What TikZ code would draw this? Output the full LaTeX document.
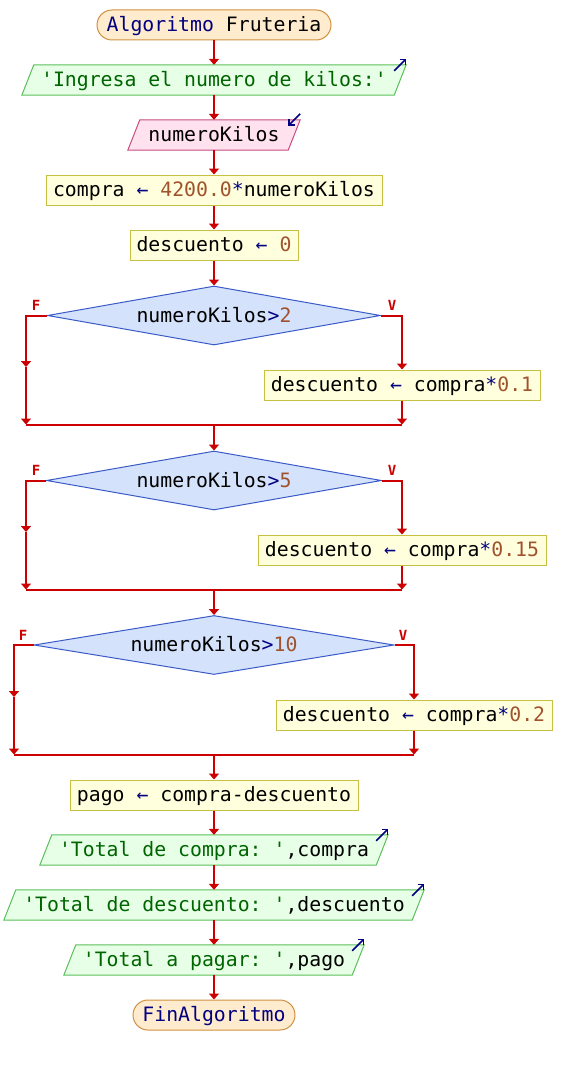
\documentclass[tikz,border=0pt]{standalone}
\usepackage{fontspec}
\setmonofont{DejaVu Sans Mono}
\usetikzlibrary{arrows.meta,shapes.geometric,backgrounds,calc}
\definecolor{conC}{HTML}{CC0000}
\definecolor{opC}{HTML}{000080}
\definecolor{numC}{HTML}{A0522D}
\definecolor{strC}{HTML}{006400}
\definecolor{asgF}{HTML}{FFFFDD}
\definecolor{asgB}{HTML}{C8C040}
\definecolor{outF}{HTML}{E6FFE6}
\definecolor{outB}{HTML}{5CBF5C}
\definecolor{inF}{HTML}{FFE2EE}
\definecolor{inB}{HTML}{C84C80}
\definecolor{terF}{HTML}{FFEBCD}
\definecolor{terB}{HTML}{D09040}
\definecolor{diaF}{HTML}{D4E2FB}
\definecolor{diaB}{HTML}{3A5BC7}
\newcommand\op[1]{\textcolor{opC}{#1}}
\newcommand\nm[1]{\textcolor{numC}{#1}}
\newcommand\st[1]{\textcolor{strC}{#1}}
\newcommand\mypara[3]{%
  \path[fill=#2,draw=#3,line width=1pt]
    ($(#1.south west)+(-6,0)$) -- ($(#1.north west)+(6,0)$) --
    ($(#1.north east)+(6,0)$) -- ($(#1.south east)+(-6,0)$) -- cycle;}
\newcommand\outicon[1]{%
  \draw[icon] ($(#1.north east)+(-6,6)$) -- ($(#1.north east)+(6,-6)$);}
\newcommand\inicon[1]{%
  \draw[icon] ($(#1.north east)+(6,-6)$) -- ($(#1.north east)+(-6,6)$);}
\tikzset{
  base/.style={inner sep=0pt, minimum height=30pt, text height=16pt, text depth=3pt},
  assign/.style={base, draw=asgB, fill=asgF, line width=1pt, minimum width=#1},
  term/.style={base, draw=terB, fill=terF, line width=1pt, rounded corners=15pt, minimum width=#1},
  para/.style={base, minimum width=#1},
  dia/.style n args={2}{diamond, draw=diaB, fill=diaF, line width=1pt, inner sep=0pt, text height=16pt, text depth=3pt, minimum width=#1, minimum height=59pt, aspect=#2},
  conn/.style={draw=conC, line width=2pt, -{Triangle[width=10pt,length=6pt]}},
  plain/.style={draw=conC, line width=2pt},
  lbl/.style={text=conC, font=\ttfamily\bfseries\fontsize{14}{14}\selectfont, inner sep=0pt},
  icon/.style={draw=opC, line width=1.6pt, -{Straight Barb[length=4pt,width=8pt]}},
}
\begin{document}
\begin{tikzpicture}[x=1pt,y=-1pt, font=\ttfamily\fontsize{19.8}{22}\selectfont]
\useasboundingbox (0,0) rectangle (562,1065);
% nodes
\node[term=234pt] (start) at (214,25) {\op{Algoritmo} Fruteria};
\node[para=372pt] (o1) at (214,80) {\st{'Ingresa el numero de kilos:'}};
\node[para=160pt] (i1) at (214,135) {numeroKilos};
\node[assign=336pt] (a1) at (214,190) {compra \op{←} \nm{4200.0}\op{*}numeroKilos};
\node[assign=168pt] (a2) at (214,245) {descuento \op{←} \nm{0}};
\node[dia={333pt}{5.64}] (d1) at (214,315.5) {numeroKilos\op{>}\nm{2}};
\node[assign=276pt] (t1) at (402,385) {descuento \op{←} compra\op{*}\nm{0.1}};
\node[dia={335pt}{5.68}] (d2) at (214,480.5) {numeroKilos\op{>}\nm{5}};
\node[assign=288pt] (t2) at (402,550) {descuento \op{←} compra\op{*}\nm{0.15}};
\node[dia={360pt}{6.0}] (d3) at (214,645) {numeroKilos\op{>}\nm{10}};
\node[assign=276pt] (t3) at (414,715) {descuento \op{←} compra\op{*}\nm{0.2}};
\node[assign=288pt] (p1) at (214,795) {pago \op{←} compra-descuento};
\node[para=336pt] (o2) at (214,850) {\st{'Total de compra: '},compra};
\node[para=408pt] (o3) at (214,905) {\st{'Total de descuento: '},descuento};
\node[para=288pt] (o4) at (214,960) {\st{'Total a pagar: '},pago};
\node[term=162pt] (fin) at (214,1015) {\op{FinAlgoritmo}};
% labels
\node[lbl] (f1) at (36,305) {F};
\node[lbl] (v1) at (392,305) {V};
\node[lbl] (f2) at (36,470) {F};
\node[lbl] (v2) at (392,470) {V};
\node[lbl] (f3) at (23,635) {F};
\node[lbl] (v3) at (403,635) {V};
% parallelogram shapes
\begin{scope}[on background layer]
\mypara{o1}{outF}{outB}
\mypara{i1}{inF}{inB}
\mypara{o2}{outF}{outB}
\mypara{o3}{outF}{outB}
\mypara{o4}{outF}{outB}
\end{scope}
\outicon{o1}
\inicon{i1}
\outicon{o2}
\outicon{o3}
\outicon{o4}
% coordinates
\coordinate (l1) at (26,367);   \coordinate (lb1) at (26,424.5);
\coordinate (rb1) at (402,424.5); \coordinate (m1) at (214,424.5);
\coordinate (l2) at (26,532);   \coordinate (lb2) at (26,589.5);
\coordinate (rb2) at (402,589.5); \coordinate (m2) at (214,589.5);
\coordinate (l3) at (14,697);   \coordinate (lb3) at (14,754.5);
\coordinate (rb3) at (414,754.5); \coordinate (m3) at (214,754.5);
% connectors
\draw[conn] (start) -- (o1);
\draw[conn] (o1) -- (i1);
\draw[conn] (i1) -- (a1);
\draw[conn] (a1) -- (a2);
\draw[conn] (a2) -- (d1.north);
\draw[conn] (d1.west) -| (l1);
\draw[conn] (l1) -- (lb1);
\draw[conn] (d1.east) -| (t1.north);
\draw[conn] (t1.south) -- (rb1);
\draw[plain] (lb1) -- (rb1);
\draw[conn] (m1) -- (d2.north);
\draw[conn] (d2.west) -| (l2);
\draw[conn] (l2) -- (lb2);
\draw[conn] (d2.east) -| (t2.north);
\draw[conn] (t2.south) -- (rb2);
\draw[plain] (lb2) -- (rb2);
\draw[conn] (m2) -- (d3.north);
\draw[conn] (d3.west) -| (l3);
\draw[conn] (l3) -- (lb3);
\draw[conn] (d3.east) -| (t3.north);
\draw[conn] (t3.south) -- (rb3);
\draw[plain] (lb3) -- (rb3);
\draw[conn] (m3) -- (p1);
\draw[conn] (p1) -- (o2);
\draw[conn] (o2) -- (o3);
\draw[conn] (o3) -- (o4);
\draw[conn] (o4) -- (fin);
\end{tikzpicture}
\end{document}
